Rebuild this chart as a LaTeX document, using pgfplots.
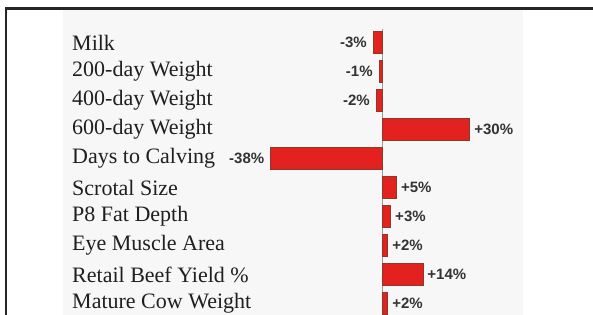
\documentclass[border=0pt]{standalone}
\usepackage{pgfplots}
\pgfplotsset{compat=1.18}
\usepackage{fontspec}
\setmainfont{Liberation Serif}
\newfontfamily\labsans{Liberation Sans}
\definecolor{barred}{HTML}{E3221F}
\definecolor{baredge}{HTML}{8B3A2A}
\begin{document}
\begin{tikzpicture}[x=1pt,y=1pt]
\path[use as bounding box, clip] (0,0) rectangle (593,315);
\fill[black!3] (63,0) rectangle (523,306);
\draw[line width=2.2pt, black!85] (6,-5) -- (6,306.5) -- (600,306.5);
\begin{axis}[
  at={(264.8pt,287pt)}, anchor=north west,
  scale only axis, width=234.4pt, height=290pt,
  xmin=-40, xmax=40, ymin=-0.5, ymax=9.5, y dir=reverse,
  axis line style={draw=none}, major tick length=0pt,
  xtick=\empty,
  ytick={0,...,9},
  yticklabels={Milk,200-day Weight,400-day Weight,600-day Weight,Days to Calving,Scrotal Size,P8 Fat Depth,Eye Muscle Area,Retail Beef Yield \%,Mature Cow Weight},
  yticklabel style={anchor=west, xshift=-192.8pt, inner sep=0pt, text=black!88, font=\fontsize{22}{24}\selectfont},
  xbar, bar width=22pt, bar shift=0pt,
  point meta=explicit symbolic,
  nodes near coords,
  every node near coord/.append style={font=\labsans\bfseries\fontsize{15}{17}\selectfont, text=black!80},
  clip=false,
]
\draw[black!40, line width=0.8pt] (axis cs:0,-0.45) -- (axis cs:0,9.6);
\addplot[fill=barred, draw=baredge, line width=0.9pt,
  every node near coord/.append style={anchor=east, inner sep=0pt, xshift=-6pt}] coordinates {
  (-3,0) [-3\%]
  (-1,1) [-1\%]
  (-2,2) [-2\%]
  (-38,4) [-38\%]
};
\addplot[fill=barred, draw=baredge, line width=0.9pt,
  every node near coord/.append style={anchor=west, inner sep=0pt, xshift=4pt}] coordinates {
  (30,3) [+30\%]
  (5,5) [+5\%]
  (3,6) [+3\%]
  (2,7) [+2\%]
  (14,8) [+14\%]
  (2,9) [+2\%]
};
\end{axis}
\end{tikzpicture}
\end{document}
